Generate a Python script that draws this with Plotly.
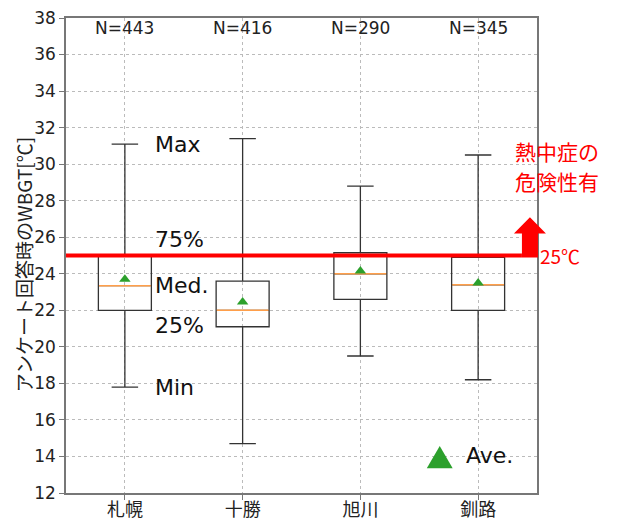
import plotly.graph_objects as go

# ---- data ----
cities = ["札幌", "十勝", "旭川", "釧路"]
counts = [443, 416, 290, 345]
wmin = [17.8, 14.7, 19.5, 18.2]
q1 = [22.0, 21.1, 22.6, 22.0]
median = [23.35, 22.0, 24.0, 23.4]
q3 = [24.95, 23.6, 25.15, 24.9]
wmax = [31.1, 31.4, 28.8, 30.5]
mean = [23.7, 22.45, 24.15, 23.5]
threshold = 25
y_lo, y_hi = 12, 38

FONT = "DejaVu Sans, Noto Sans CJK JP"
JFONT = "Noto Sans CJK JP"
BOX_W = 0.45
xs = list(range(len(cities)))

fig = go.Figure()
for i in xs:
    fig.add_trace(go.Box(
        x=[i], q1=[q1[i]], median=[median[i]], q3=[q3[i]],
        lowerfence=[wmin[i]], upperfence=[wmax[i]],
        width=BOX_W, whiskerwidth=0.5, boxpoints=False,
        line=dict(color="#333333", width=1.3),
        fillcolor="rgba(255,255,255,0)", showlegend=False, hoverinfo="skip"))
    fig.add_trace(go.Scatter(
        x=[i - BOX_W / 2 + 0.005, i + BOX_W / 2 - 0.005], y=[median[i], median[i]],
        mode="lines", line=dict(color="#ff9f4a", width=1.5),
        showlegend=False, hoverinfo="skip"))

fig.add_trace(go.Scatter(
    x=xs, y=mean, mode="markers",
    marker=dict(symbol="triangle-up", size=10, color="#2ca02c"),
    showlegend=False, hoverinfo="skip"))

def py(v):
    return (v - y_lo) / (y_hi - y_lo)

shapes = []
# red threshold line
shapes.append(dict(type="line", xref="paper", yref="paper", x0=0, x1=0.968,
                   y0=py(threshold), y1=py(threshold),
                   line=dict(color="#ff0000", width=4), layer="above"))
# arrow
t = py(threshold)
r_top = py(threshold + 1.2)
apex = py(threshold + 2.1)
arrow_path = (f"M 0.968 {t - 0.004} L 1.002 {t - 0.004} L 1.002 {r_top} L 1.019 {r_top} "
              f"L 0.985 {apex} L 0.951 {r_top} L 0.968 {r_top} Z")
shapes.append(dict(type="path", xref="paper", yref="paper", path=arrow_path,
                   fillcolor="#ff0000", line=dict(color="#ff0000", width=0), layer="above"))
# Ave. legend triangle
shapes.append(dict(type="path", xref="paper", yref="paper",
                   path="M 0.766 0.052 L 0.821 0.052 L 0.7935 0.099 Z",
                   fillcolor="#2ca02c", line=dict(width=0), layer="above"))

annotations = []
for i in xs:
    annotations.append(dict(x=i, y=37.45, xref="x", yref="y", text=f"N={counts[i]}",
                            showarrow=False, font=dict(family=FONT, size=17, color="#222"),
                            xanchor="center", yanchor="middle"))
lab_x = 0.24
lab_font = dict(family=FONT, size=22, color="#111")
annotations += [
    dict(x=lab_x, y=wmax[0], text="Max", yanchor="middle"),
    dict(x=lab_x, y=q3[0] + 0.15, text="75%", yanchor="bottom"),
    dict(x=lab_x, y=median[0], text="Med.", yanchor="middle"),
    dict(x=lab_x, y=q1[0] - 0.05, text="25%", yanchor="top"),
    dict(x=lab_x, y=wmin[0], text="Min", yanchor="middle"),
]
for a in annotations[-5:]:
    a.update(xref="x", yref="y", showarrow=False, xanchor="left", font=lab_font)

for k, line in enumerate(["熱中症の", "危険性有"]):
    annotations.append(dict(x=1.0, y=py(threshold + 5.74 - 1.68 * k), xref="paper", yref="paper",
                            text=line, showarrow=False, xanchor="left", yanchor="middle",
                            font=dict(family=JFONT, size=21, color="#ff0000"), xshift=-24))
annotations.append(dict(x=1.0, y=py(threshold), xref="paper", yref="paper",
                        text="25℃", showarrow=False, xanchor="left", yanchor="middle",
                        font=dict(family=JFONT, size=19, color="#ff0000"), xshift=1))
annotations.append(dict(x=0.846, y=0.078, xref="paper", yref="paper", text="Ave.",
                        showarrow=False, xanchor="left", yanchor="middle",
                        font=dict(family=FONT, size=22, color="#111")))
annotations.append(dict(x=-0.091, y=0.48, xref="paper", yref="paper",
                        text="アンケート回答時のWBGT[℃]", textangle=-90, showarrow=False,
                        xanchor="center", yanchor="middle",
                        font=dict(family=JFONT, size=19, color="#222")))

fig.update_layout(
    width=618, height=521,
    margin=dict(l=66, r=81, t=18, b=28, autoexpand=False),
    paper_bgcolor="white", plot_bgcolor="white",
    boxmode="overlay", showlegend=False,
    shapes=shapes, annotations=annotations,
    xaxis=dict(range=[-0.5, 3.5], tickvals=xs, ticktext=cities, automargin=False,
               showgrid=True, gridcolor="#bbbbbb", griddash="dot", gridwidth=1,
               showline=True, linecolor="#777", linewidth=1.5, mirror=True,
               ticks="outside", ticklen=5, tickcolor="#777", zeroline=False,
               ticklabelstandoff=-5,
               tickfont=dict(family=JFONT, size=18, color="#222")),
    yaxis=dict(range=[y_lo, y_hi], dtick=2, tick0=12, automargin=False,
               showgrid=True, gridcolor="#bbbbbb", griddash="dot", gridwidth=1,
               showline=True, linecolor="#777", linewidth=1.5, mirror=True,
               ticks="outside", ticklen=5, tickcolor="#777", zeroline=False,
               tickfont=dict(family=FONT, size=17, color="#222")),
)

fig.write_html("out.html", config={"displayModeBar": False},
               post_script="document.body.style.margin='0px';document.body.style.padding='0px';")
